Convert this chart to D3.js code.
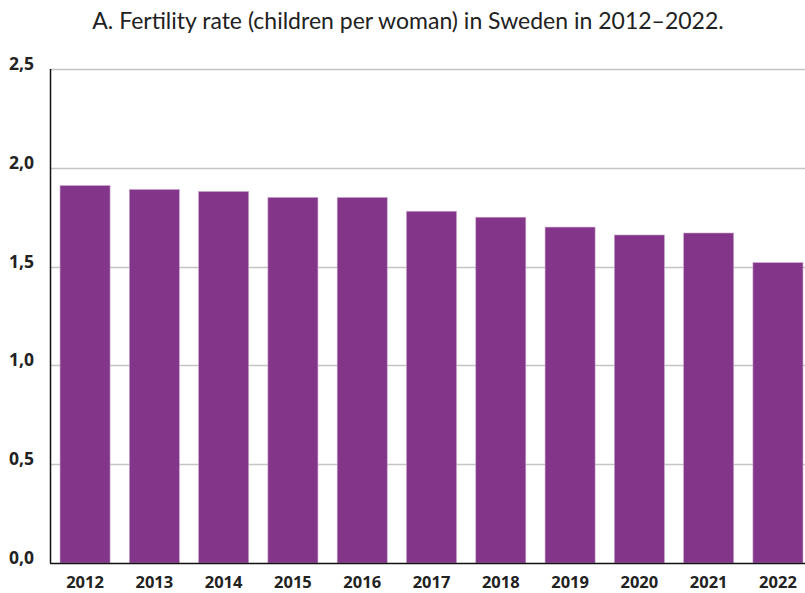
<!DOCTYPE html>
<html>
<head>
<meta charset="utf-8">
<script src="https://cdn.jsdelivr.net/npm/d3@7/dist/d3.min.js"></script>
<style>
  html, body { margin: 0; padding: 0; background: #ffffff; }
  svg { display: block; }
</style>
</head>
<body>
<svg id="chart" width="805" height="593"></svg>
<script>
// Total fertility rate in Sweden, 2012–2022
const years = ["2012", "2013", "2014", "2015", "2016", "2017", "2018", "2019", "2020", "2021", "2022"];
const fertility = [1.91, 1.89, 1.88, 1.85, 1.85, 1.78, 1.75, 1.70, 1.66, 1.67, 1.52];
const yTicks = [0, 0.5, 1.0, 1.5, 2.0, 2.5];
const yTickLabels = ["0,0", "0,5", "1,0", "1,5", "2,0", "2,5"];
const title = "A. Fertility rate (children per woman) in Sweden in 2012–2022.";

const svg = d3.select("#chart");
const plotLeft = 50, plotRight = 805, plotTop = 69, plotBottom = 563;

const x = d3.scaleBand()
  .domain(years)
  .range([50.4, 812.6])
  .paddingInner(0.278)
  .paddingOuter(0.139);

const y = d3.scaleLinear()
  .domain([0, 2.5])
  .range([plotBottom, plotTop]);

// Title
svg.append("text")
  .attr("x", 408)
  .attr("y", 29)
  .attr("text-anchor", "middle")
  .attr("font-family", "Lato, 'Open Sans', sans-serif")
  .attr("font-size", 23)
  .attr("fill", "#222")
  .text(title);

// Horizontal gridlines
svg.append("g")
  .selectAll("line")
  .data(yTicks.filter(d => d > 0))
  .join("line")
  .attr("x1", plotLeft)
  .attr("x2", plotRight)
  .attr("y1", d => Math.round(y(d)) + 0.5)
  .attr("y2", d => Math.round(y(d)) + 0.5)
  .attr("stroke", "#c4c4c4")
  .attr("stroke-width", 1.5);

// Bars
svg.append("g")
  .selectAll("rect")
  .data(fertility)
  .join("rect")
  .attr("x", (d, i) => x(years[i]))
  .attr("width", x.bandwidth())
  .attr("y", d => y(d))
  .attr("height", d => y(0) - y(d))
  .attr("fill", "#83358a")
  .attr("stroke", "#c9a3cc")
  .attr("stroke-width", 0.6);

// Axis lines
svg.append("line")
  .attr("x1", plotLeft + 0.5).attr("x2", plotLeft + 0.5)
  .attr("y1", plotTop).attr("y2", plotBottom)
  .attr("stroke", "#111").attr("stroke-width", 1.5);
svg.append("line")
  .attr("x1", plotLeft).attr("x2", plotRight)
  .attr("y1", plotBottom + 0.5).attr("y2", plotBottom + 0.5)
  .attr("stroke", "#111").attr("stroke-width", 1.5);

// Y tick labels
svg.append("g")
  .selectAll("text")
  .data(yTicks)
  .join("text")
  .attr("x", 9)
  .attr("y", d => y(d) + 1)
  .attr("font-family", "'Open Sans', sans-serif")
  .attr("font-weight", 700)
  .attr("font-size", 17.5)
  .attr("fill", "#222")
  .text((d, i) => yTickLabels[i]);

// X tick labels
svg.append("g")
  .selectAll("text")
  .data(years)
  .join("text")
  .attr("x", d => x(d) + x.bandwidth() / 2)
  .attr("y", 588)
  .attr("text-anchor", "middle")
  .attr("font-family", "'Open Sans', sans-serif")
  .attr("font-weight", 700)
  .attr("font-size", 16.5)
  .attr("fill", "#222")
  .text(d => d);
</script>
</body>
</html>
